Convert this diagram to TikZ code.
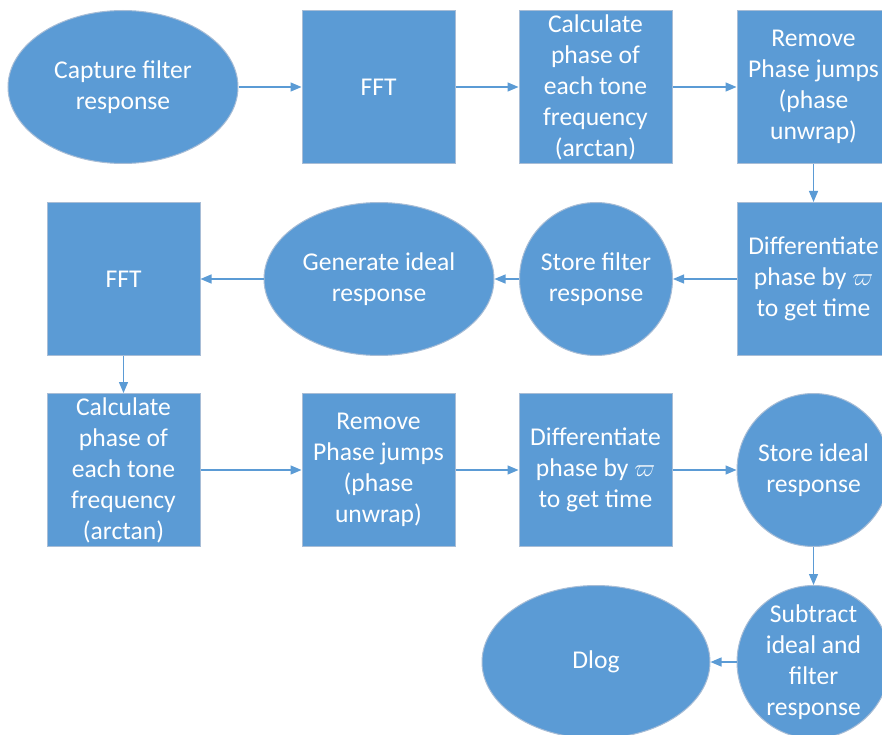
\documentclass[tikz,border=0pt]{standalone}
\usepackage{fontspec}
\setmainfont{Carlito}
\usetikzlibrary{shapes.geometric,arrows.meta}
\definecolor{fillblue}{HTML}{5B9BD5}
\definecolor{edgeblue}{HTML}{A8BDD6}
\begin{document}
\begin{tikzpicture}[x=1pt,y=-1pt,
  base/.style={fill=fillblue, draw=edgeblue, line width=1pt, text=white,
    font=\fontsize{25.6}{31}\selectfont, align=center, inner sep=0pt},
  boxnode/.style={base, rectangle, minimum width=153pt, minimum height=153pt},
  ellnode/.style={base, ellipse, minimum width=230pt, minimum height=153pt},
  circnode/.style={base, circle, minimum size=153pt, inner sep=-12pt},
  conn/.style={draw=fillblue, line width=1.3pt, -{Triangle[length=11pt,width=9pt]}}]
\useasboundingbox (0,0) rectangle (882,735);
% row 1
\node[ellnode] (cap) at (123,87) {Capture filter\\response};
\node[boxnode] (fft1) at (378.5,87) {FFT};
\node[boxnode] (calc1) at (595.5,87) {Calculate\\phase of\\each tone\\frequency\\(arctan)};
\node[boxnode] (rem1) at (813.5,87) {Remove\\Phase jumps\\(phase\\unwrap)};
% row 2
\node[boxnode] (diff1) at (813.5,279) {Differentiate\\phase by $\varpi$\\to get time};
\node[circnode] (store1) at (596,279) {Store filter\\response};
\node[ellnode] (gen) at (379,279) {Generate ideal\\response};
\node[boxnode] (fft2) at (123.5,279) {FFT};
% row 3
\node[boxnode] (calc2) at (123.5,470) {Calculate\\phase of\\each tone\\frequency\\(arctan)};
\node[boxnode] (rem2) at (378.5,470) {Remove\\Phase jumps\\(phase\\unwrap)};
\node[boxnode] (diff2) at (595.5,470) {Differentiate\\phase by $\varpi$\\to get time};
\node[circnode] (store2) at (813.5,470) {Store ideal\\response};
% row 4
\node[circnode] (sub) at (813.5,662) {Subtract\\ideal and\\filter\\response};
\node[ellnode, minimum width=228pt] (dlog) at (596,662) {Dlog};
% connectors
\draw[conn] (cap) -- (fft1);
\draw[conn] (fft1) -- (calc1);
\draw[conn] (calc1) -- (rem1);
\draw[conn] (rem1) -- (diff1);
\draw[conn] (diff1) -- (store1);
\draw[conn] (store1) -- (gen);
\draw[conn] (gen) -- (fft2);
\draw[conn] (fft2) -- (calc2);
\draw[conn] (calc2) -- (rem2);
\draw[conn] (rem2) -- (diff2);
\draw[conn] (diff2) -- (store2);
\draw[conn] (store2) -- (sub);
\draw[conn] (sub) -- (dlog);
\end{tikzpicture}
\end{document}
